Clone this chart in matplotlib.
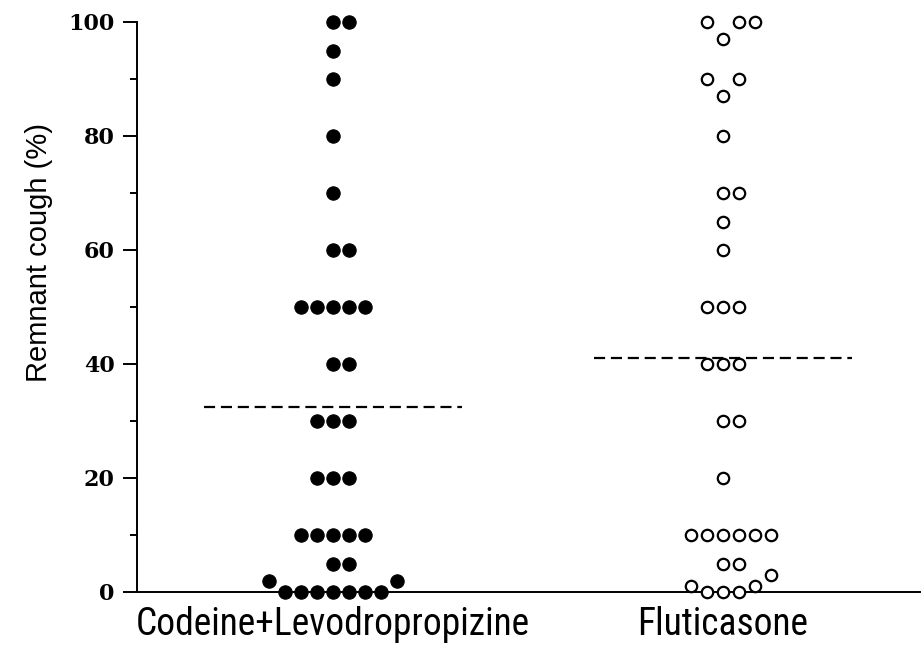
import numpy as np
import matplotlib
matplotlib.use("Agg")
import matplotlib.pyplot as plt
from matplotlib import font_manager as fm

# ---------------- data ----------------
groups = ["Codeine+Levodropropizine", "Fluticasone"]
codeine = [100, 100, 95, 90, 80, 70, 60, 60, 50, 50, 50, 50, 50, 40, 40,
           30, 30, 30, 20, 20, 20, 10, 10, 10, 10, 10, 5, 5, 2, 2,
           0, 0, 0, 0, 0, 0, 0]
fluticasone = [100, 100, 100, 97, 90, 90, 87, 80, 70, 70, 65, 60, 50, 50, 50,
               40, 40, 40, 30, 30, 20, 10, 10, 10, 10, 10, 10, 5, 5, 3,
               1, 1, 0, 0, 0]
yticks_major = [0, 20, 40, 60, 80, 100]
yticks_minor = [10, 30, 50, 70, 90]
ylabel = "Remnant cough (%)"

# ---------------- fonts ----------------
names = {f.name for f in fm.fontManager.ttflist}
narrow = None
for cand in ["Liberation Sans Narrow", "Arial Narrow", "Roboto Condensed",
             "Open Sans Condensed", "DejaVu Sans Condensed"]:
    if cand in names:
        narrow = cand
        break
cond_dejavu = any(f.name == "DejaVu Sans" and str(f.stretch) in ("condensed", "semi-condensed", "75", "87.5")
                  for f in fm.fontManager.ttflist)

W, H, DPI = 924, 652, 100
fig = plt.figure(figsize=(W / DPI, H / DPI), dpi=DPI)
ax = fig.add_axes([137 / W, 1 - 592 / H, (920 - 137) / W, (592 - 22) / H])

xlim = (-0.5026, 1.505)
ylim = (0, 100)
ax.set_xlim(*xlim)
ax.set_ylim(*ylim)

# pixel scales derived from axes geometry
ax_w_px = (920 - 137)
ax_h_px = (592 - 22)
px_per_x = ax_w_px / (xlim[1] - xlim[0])
px_per_y = ax_h_px / (ylim[1] - ylim[0])
slot_px = 16.0
ty_px = 20.0


def swarm(values):
    values = np.asarray(values, float)
    order = np.argsort(values, kind="stable")
    cands = [0] + [s for k in range(1, 30) for s in (k, -k)]
    placed = []
    offs = np.zeros(len(values))
    for i in order:
        v = values[i]
        for s in cands:
            if all(not (abs(ps - s) < 1 and abs(pv - v) * px_per_y < ty_px) for ps, pv in placed):
                break
        placed.append((s, v))
        offs[i] = s
    return offs * slot_px / px_per_x


for gi, (vals, filled) in enumerate([(codeine, True), (fluticasone, False)]):
    xs = gi + swarm(vals)
    if filled:
        ax.plot(xs, vals, "o", ms=9.6, mfc="black", mec="black", mew=0.8,
                ls="none", clip_on=False, zorder=3)
    else:
        ax.plot(xs, vals, "o", ms=8.2, mfc="white", mec="black", mew=1.6,
                ls="none", clip_on=False, zorder=3)
    m = np.mean(vals)
    ax.plot([gi - 0.33, gi + 0.33], [m, m], color="black", lw=1.6,
            ls=(0, (5.0, 2.6)), zorder=2)

# axes styling
for s in ["top", "right"]:
    ax.spines[s].set_visible(False)
ax.spines["left"].set_linewidth(1.4)
ax.spines["bottom"].set_linewidth(1.4)

ax.set_yticks(yticks_major)
ax.set_yticks(yticks_minor, minor=True)
ax.set_yticklabels([str(t) for t in yticks_major], fontfamily="DejaVu Serif",
                   fontweight="heavy", fontsize=16)
ax.tick_params(axis="y", which="major", length=10, width=1.4, pad=6)
ax.tick_params(axis="y", which="minor", length=5, width=1.4)

ax.set_xticks([0, 1])
if narrow is not None:
    xl_kw = dict(fontfamily=narrow, fontsize=27)
elif cond_dejavu:
    xl_kw = dict(fontfamily="DejaVu Sans", fontstretch="condensed", fontsize=24)
else:
    xl_kw = dict(fontfamily="Liberation Sans", fontsize=23)
ax.set_xticklabels(groups, **xl_kw)
ax.tick_params(axis="x", length=0, pad=10)

ax.set_ylabel(ylabel, fontfamily="Liberation Sans", fontsize=21)
ax.yaxis.set_label_coords((53 - 137) / ax_w_px, (592 - 252) / ax_h_px)

fig.savefig("out.png", dpi=DPI)
